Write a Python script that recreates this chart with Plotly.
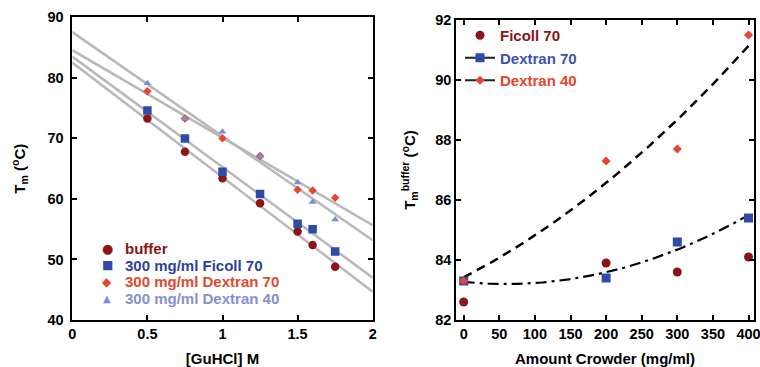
import numpy as np
import plotly.graph_objects as go

# ---------------- data: left panel ----------------
guhcl = [0.5, 0.75, 1.0, 1.25, 1.5, 1.6, 1.75]
tm_buffer = [73.3, 67.8, 63.4, 59.3, 54.6, 52.4, 48.8]
tm_ficoll70 = [74.6, 70.0, 64.5, 60.8, 55.9, 55.0, 51.3]
tm_dextran70 = [77.8, 73.3, 70.0, 67.1, 61.5, 61.4, 60.2]
tm_dextran40 = [79.1, 73.3, 71.1, 67.0, 62.7, 59.5, 56.6]
left_names = ["buffer", "300 mg/ml Ficoll 70", "300 mg/ml Dextran 70", "300 mg/ml Dextran 40"]
left_fit_x = [0, 2]

# ---------------- data: right panel ----------------
crowder = [0, 200, 300, 400]
tmb_ficoll70 = [82.6, 83.9, 83.6, 84.1]
tmb_dextran70 = [83.3, 83.4, 84.6, 85.4]
tmb_dextran40 = [83.3, 87.3, 87.7, 91.5]
right_names = ["Ficoll 70", "Dextran 70", "Dextran 40"]

left_xtick_vals = [0, 0.5, 1, 1.5, 2]
left_xtick_text = ["0", "0.5", "1", "1.5", "2"]
left_ytick_vals = [40, 50, 60, 70, 80, 90]
right_xtick_vals = [0, 50, 100, 150, 200, 250, 300, 350, 400]
right_ytick_vals = [82, 84, 86, 88, 90, 92]

# ---------------- style ----------------
C_DRED = "#8B1518"
C_BLUE = "#2E4BA8"
C_RED = "#E8452C"
C_LBLUE = "#7B8FD6"
GRAY = "#B8B8B8"
FONT = "Liberation Sans"

W, H = 760, 367

fig = go.Figure()

# left panel fit lines (least-squares lines through each series)
for ys in [tm_buffer, tm_ficoll70, tm_dextran70, tm_dextran40]:
    p = np.polyfit(guhcl, ys, 1)
    fx = np.array(left_fit_x, dtype=float)
    fig.add_trace(go.Scatter(x=fx, y=np.polyval(p, fx), mode="lines",
                             line=dict(color=GRAY, width=2.5),
                             showlegend=False, hoverinfo="skip",
                             xaxis="x", yaxis="y"))

left_series = [
    (tm_buffer, "circle", 8.5, C_DRED),
    (tm_ficoll70, "square", 8.5, C_BLUE),
    (tm_dextran70, "diamond", 6.5, C_RED),
    (tm_dextran40, "triangle-up", 7, C_LBLUE),
]
for (ys, sym, sz, col), nm in zip(left_series, left_names):
    fig.add_trace(go.Scatter(x=guhcl, y=ys, mode="markers", name=nm,
                             marker=dict(symbol=sym, size=sz, color=col),
                             showlegend=False, xaxis="x", yaxis="y"))

# right panel quadratic fits
xs = np.linspace(0, 400, 161)
p70 = np.polyfit(crowder, tmb_dextran70, 2)
p40 = np.polyfit(crowder, tmb_dextran40, 2)
fig.add_trace(go.Scatter(x=xs, y=np.polyval(p70, xs), mode="lines",
                         line=dict(color="black", width=2.2, dash="11px,5px,3px,5px"),
                         showlegend=False, hoverinfo="skip", xaxis="x2", yaxis="y2"))
fig.add_trace(go.Scatter(x=xs, y=np.polyval(p40, xs), mode="lines",
                         line=dict(color="black", width=2.5, dash="9px,6px"),
                         showlegend=False, hoverinfo="skip", xaxis="x2", yaxis="y2"))

right_series = [
    (tmb_ficoll70, "circle", 9, C_DRED),
    (tmb_dextran70, "square", 9, C_BLUE),
    (tmb_dextran40, "diamond", 7, C_RED),
]
for (ys, sym, sz, col), nm in zip(right_series, right_names):
    fig.add_trace(go.Scatter(x=crowder, y=ys, mode="markers", name=nm,
                             marker=dict(symbol=sym, size=sz, color=col),
                             showlegend=False, xaxis="x2", yaxis="y2"))

# legend entries for right panel
legend_text_cols = ["#8B1518", "#3A52B0", "#E8452C"]
legend_modes = ["markers", "lines+markers", "lines+markers"]
for (ys, sym, sz, col), nm, tc, md in zip(right_series, right_names, legend_text_cols, legend_modes):
    fig.add_trace(go.Scatter(x=[None], y=[None], mode=md,
                             name=f"<span style='color:{tc}'>{nm}</span>",
                             marker=dict(symbol=sym, size=sz, color=col),
                             line=dict(color="#222222", width=2),
                             showlegend=True, xaxis="x2", yaxis="y2"))

# left panel legend as text
glyphs = ["\u25CF", "\u25A0", "\u25C6", "\u25B2"]
glyph_cols = [C_DRED, C_BLUE, C_RED, C_LBLUE]
text_cols = ["#8B1518", "#2E3F9E", "#E04A2E", "#8591CF"]
rows_y = [248.5, 265, 281.5, 298]
glyph_sizes = [13, 12, 12, 10]
annotations = []
for g, gc, tc, nm, ry, gs in zip(glyphs, glyph_cols, text_cols, left_names, rows_y, glyph_sizes):
    annotations.append(dict(x=107 / W, y=1 - ry / H, xref="paper", yref="paper",
                            text=g, showarrow=False, xanchor="center", yanchor="middle",
                            font=dict(family="DejaVu Sans", size=gs, color=gc)))
    annotations.append(dict(x=123 / W, y=1 - ry / H, xref="paper", yref="paper",
                            text=nm, showarrow=False, xanchor="left", yanchor="middle",
                            font=dict(family=FONT, size=15, color=tc, weight="bold")))

axis_common = dict(showline=True, linecolor="black", linewidth=1.5, mirror="ticks",
                   ticks="inside", ticklen=5, tickwidth=1.5, tickcolor="black",
                   showgrid=False, zeroline=False, automargin=False,
                   ticklabeloverflow="allow",
                   tickfont=dict(family=FONT, size=14.5, color="black", weight="bold"))
title_font = dict(family=FONT, size=15, color="black", weight="bold")

fig.update_layout(
    width=W, height=H,
    margin=dict(l=0, r=0, t=0, b=0),
    paper_bgcolor="white", plot_bgcolor="white",
    xaxis=dict(domain=[72.3 / W, 372.7 / W], range=[0, 2], anchor="y",
               tickvals=left_xtick_vals, ticktext=left_xtick_text,
               title=dict(text="[GuHCl] M", font=title_font, standoff=12),
               **axis_common),
    yaxis=dict(domain=[1 - 320 / H, 1 - 17.3 / H], range=[40, 90], anchor="x",
               tickvals=left_ytick_vals, ticklabelstandoff=4,
               title=dict(text="T<sub>m</sub> (<sup>o</sup>C)", font=title_font, standoff=18),
               **axis_common),
    xaxis2=dict(domain=[456 / W, 754 / W], range=[-10.8, 407.7], anchor="y2",
                tickvals=right_xtick_vals,
                title=dict(text="Amount Crowder (mg/ml)", font=title_font, standoff=12),
                **axis_common),
    yaxis2=dict(domain=[1 - 320 / H, 1 - 20 / H], range=[82, 92], anchor="x2",
                tickvals=right_ytick_vals,
                title=dict(text="T<sub>m</sub><sup>buffer</sup> (<sup>o</sup>C)", font=title_font, standoff=16),
                **axis_common),
    legend=dict(x=460 / W, y=1 - 19 / H, xanchor="left", yanchor="top",
                bgcolor="rgba(0,0,0,0)", borderwidth=0, itemwidth=30,
                font=dict(family=FONT, size=15, color="black", weight="bold"),
                tracegroupgap=0),
    annotations=annotations,
    showlegend=True,
)

fig.write_html("out.html",
               config={"displayModeBar": False},
               post_script="document.body.style.margin='0';document.body.style.padding='0';")
